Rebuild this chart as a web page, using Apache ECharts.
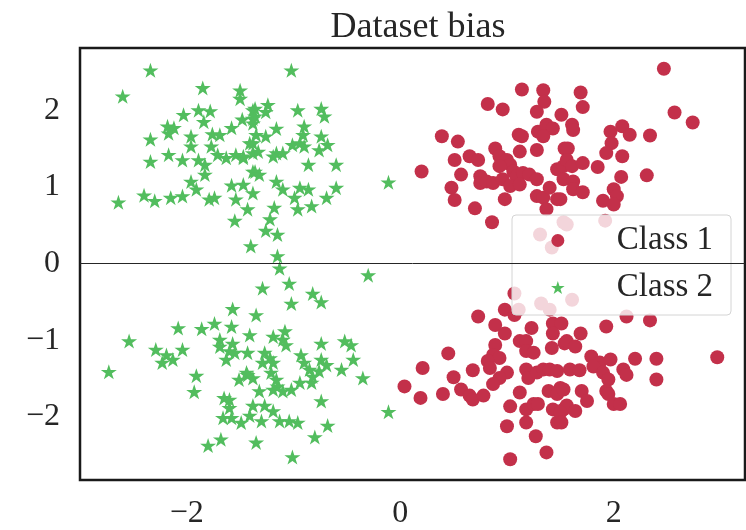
<!DOCTYPE html>
<html><head><meta charset="utf-8">
<script src="https://cdn.jsdelivr.net/npm/echarts@6/dist/echarts.min.js"></script>
<style>html,body{margin:0;padding:0;background:#fff}#c{width:746px;height:530px}</style>
</head><body><div id="c"></div>
<script>
const titleText = 'Dataset bias';
const seriesNames = ['Class 1', 'Class 2'];
const xTicks = [-2, 0, 2];
const yTicks = [-2, -1, 0, 1, 2];

const class1 = [
[1.14,2.27],[1.34,2.26],[1.35,2.11],[0.82,2.08],[0.96,2.01],[1.28,1.98],[1.51,1.94],[0.39,1.66],[0.54,1.59],[1.11,1.68],
[1.14,1.66],[1.29,1.72],[1.37,1.81],[1.43,1.76],[1.34,1.66],[1.28,1.48],[0.89,1.50],[0.65,1.40],[0.73,1.35],[0.51,1.35],
[1.12,1.46],[1.54,1.50],[0.93,1.40],[1.00,1.35],[1.03,1.29],[0.93,1.27],[0.20,1.20],[0.57,1.16],[0.75,1.14],[0.75,1.05],
[0.81,1.07],[0.87,1.05],[1.06,1.20],[1.09,1.14],[1.15,1.18],[1.21,1.16],[1.28,1.10],[0.96,1.10],[1.03,1.01],[1.12,1.03],
[1.47,1.23],[1.53,1.27],[1.53,1.10],[0.48,0.99],[0.51,0.83],[0.98,0.84],[1.28,0.88],[1.34,0.86],[1.47,0.84],[1.40,0.99],
[0.70,0.72],[1.37,0.71],[0.86,0.54],[1.31,0.38],[1.42,0.21],[1.53,0.54],[2.47,2.54],[1.69,2.23],[1.71,2.04],[2.57,1.97],
[2.74,1.84],[1.61,1.81],[1.62,1.74],[1.97,1.72],[2.08,1.79],[2.15,1.68],[2.34,1.67],[1.98,1.57],[1.93,1.44],[2.08,1.40],
[1.57,1.50],[1.56,1.35],[1.61,1.27],[1.71,1.31],[1.85,1.26],[2.07,1.13],[2.31,1.15],[1.62,1.07],[1.62,0.97],[1.71,0.93],
[1.50,0.84],[2.00,0.97],[2.03,0.88],[1.90,0.82],[2.00,0.77],[1.92,0.56],[1.56,0.51],
[1.07,-0.39],[1.32,-0.52],[1.40,-0.60],[1.11,-0.60],[0.73,-0.69],[0.98,-0.60],[1.07,-0.67],[0.89,-0.80],[0.98,-0.91],[1.43,-0.78],
[1.51,-0.78],[1.43,-0.91],[1.23,-0.84],[1.12,-1.01],[1.18,-1.01],[0.89,-1.06],[0.87,-1.19],[0.93,-1.23],[0.82,-1.27],[0.84,-1.36],
[1.18,-1.14],[1.25,-1.16],[1.42,-1.10],[1.54,-1.04],[0.45,-1.17],[0.21,-1.36],[0.68,-1.39],[0.50,-1.48],[1.00,-1.42],[0.93,-1.49],
[0.87,-1.57],[1.18,-1.38],[1.20,-1.49],[1.28,-1.42],[1.34,-1.38],[1.40,-1.38],[1.47,-1.40],[0.04,-1.60],[0.19,-1.75],[0.40,-1.70],
[0.57,-1.64],[0.65,-1.72],[0.68,-1.77],[0.78,-1.72],[1.12,-1.68],[1.39,-1.66],[1.50,-1.62],[1.47,-1.70],[1.03,-1.86],[1.18,-1.90],
[1.25,-1.83],[1.29,-1.83],[1.43,-1.90],[1.53,-1.90],[1.47,-2.07],[1.18,-2.07],[1.00,-2.12],[1.27,-2.25],[1.37,-2.46],[1.03,-2.55],
[1.61,-0.47],[2.12,-0.69],[2.34,-0.74],[1.93,-0.82],[1.69,-0.91],[1.56,-1.01],[1.64,-1.08],[1.79,-1.21],[1.87,-1.29],[1.97,-1.25],
[1.81,-1.34],[1.90,-1.42],[1.95,-1.51],[2.09,-1.38],[2.12,-1.45],[2.20,-1.24],[2.40,-1.24],[2.40,-1.51],[2.97,-1.22],[1.59,-1.38],
[1.68,-1.39],[1.53,-1.64],[1.70,-1.66],[1.75,-1.79],[1.93,-1.66],[1.95,-1.70],[2.00,-1.83],[2.06,-1.83],[1.56,-1.85],[1.64,-1.92],
[1.50,-1.94],[1.51,-2.07]
];

const class2 = [
[-2.34,2.52],[-2.60,2.18],[-1.85,2.29],[-1.50,2.26],[-1.50,2.15],[-2.03,1.94],[-1.89,2.00],[-1.78,1.99],[-1.84,1.85],[-2.18,1.79],
[-2.12,1.77],[-2.17,1.70],[-2.34,1.62],[-1.96,1.66],[-1.96,1.53],[-1.76,1.69],[-1.69,1.68],[-1.58,1.77],[-1.48,1.88],[-1.38,2.00],
[-1.38,1.89],[-1.77,1.53],[-2.17,1.42],[-2.04,1.35],[-2.34,1.33],[-1.89,1.35],[-1.83,1.29],[-1.83,1.16],[-1.71,1.42],[-1.63,1.38],
[-1.54,1.42],[-1.47,1.38],[-1.38,1.57],[-1.38,1.44],[-1.96,1.07],[-1.91,0.97],[-1.38,1.20],[-1.58,1.02],[-1.47,1.03],[-1.38,0.92],
[-1.54,0.84],[-2.40,0.89],[-2.30,0.82],[-2.15,0.86],[-2.04,0.88],[-2.64,0.80],[-1.79,0.84],[-1.74,0.86],[-1.43,0.71],[-1.55,0.56],
[-1.40,0.23],[-1.02,2.52],[-1.36,2.02],[-1.24,2.07],[-1.26,1.98],[-1.36,1.92],[-1.38,1.83],[-0.96,2.00],[-0.74,2.02],[-0.71,1.92],
[-1.16,1.76],[-0.90,1.79],[-0.91,1.68],[-1.35,1.68],[-1.26,1.66],[-1.41,1.57],[-0.74,1.66],[-0.68,1.55],[-0.76,1.48],[-1.01,1.55],
[-0.90,1.53],[-0.94,1.57],[-1.16,1.44],[-1.10,1.44],[-1.19,1.40],[-1.33,1.46],[-1.47,1.40],[-0.86,1.29],[-0.60,1.29],[-1.36,1.20],
[-1.32,1.16],[-1.16,1.07],[-1.10,0.97],[-0.11,1.06],[-0.94,0.99],[-0.86,0.97],[-0.99,0.86],[-0.60,0.99],[-0.69,0.86],[-1.18,0.73],
[-0.96,0.71],[-0.83,0.75],[-1.22,0.58],[-1.26,0.43],[-1.15,0.38],[-1.15,0.10],
[-1.13,-0.06],[-0.30,-0.15],[-1.29,-0.32],[-1.04,-0.26],[-0.82,-0.39],[-0.74,-0.50],[-1.02,-0.52],[-1.35,-0.67],[-1.57,-0.59],[-2.08,-0.84],
[-1.86,-0.85],[-1.74,-0.78],[-1.58,-0.82],[-1.41,-0.93],[-2.54,-1.01],[-2.29,-1.12],[-2.19,-1.19],[-2.13,-1.25],[-2.23,-1.29],[-2.04,-1.12],
[-1.69,-0.99],[-1.69,-1.08],[-1.57,-1.04],[-1.60,-1.14],[-1.63,-1.25],[-1.55,-1.16],[-1.43,-1.16],[-2.73,-1.41],[-1.91,-1.46],[-1.93,-1.67],
[-1.51,-1.51],[-1.43,-1.45],[-1.38,-1.49],[-1.65,-1.75],[-1.60,-1.77],[-1.60,-1.88],[-1.38,-1.85],[-1.41,-1.98],[-1.66,-2.01],[-1.58,-2.01],
[-1.49,-2.07],[-1.68,-2.29],[-1.80,-2.37],[-1.35,-2.33],[-1.19,-0.95],[-1.08,-0.88],[-1.10,-0.99],[-1.07,-1.06],[-0.74,-1.04],[-0.52,-1.01],
[-0.46,-1.06],[-1.27,-1.16],[-1.22,-1.23],[-1.29,-1.29],[-1.19,-1.29],[-0.93,-1.19],[-0.90,-1.29],[-0.85,-1.38],[-0.74,-1.25],[-0.69,-1.32],
[-0.76,-1.40],[-0.44,-1.25],[-0.55,-1.38],[-0.35,-1.49],[-1.44,-1.42],[-1.21,-1.42],[-1.16,-1.51],[-1.15,-1.60],[-1.19,-1.64],[-1.32,-1.66],
[-1.10,-1.66],[-1.02,-1.64],[-0.94,-1.55],[-0.83,-1.55],[-0.82,-1.47],[-0.74,-1.79],[-1.27,-1.85],[-1.19,-1.92],[-1.30,-2.05],[-1.13,-2.05],
[-1.04,-2.05],[-0.96,-2.07],[-0.68,-2.11],[-0.80,-2.26],[-1.01,-2.52],[-0.11,-1.93]
];

const starPath = 'path://M50,0L61.2,34.5L97.6,34.5L68.2,55.9L79.4,90.5L50,69.1L20.6,90.5L31.8,55.9L2.4,34.5L38.8,34.5Z';
const serif = '"Liberation Serif", "DejaVu Serif", serif';
const textColor = '#262626';
const fmt = v => v < 0 ? '\u2212' + Math.abs(v) : String(v);

const chart = echarts.init(document.getElementById('c'), null, {renderer: 'canvas'});
chart.setOption({
  animation: false,
  backgroundColor: '#fff',
  title: {
    text: titleText, left: 413, top: 5, textAlign: 'center',
    textStyle: {fontFamily: serif, fontSize: 36, fontWeight: 'normal', color: textColor}
  },
  grid: {left: 80, right: 1, top: 48, bottom: 47, show: true, borderColor: '#1a1a1a', borderWidth: 2.5, backgroundColor: 'transparent'},
  xAxis: {
    type: 'value', min: -3.0, max: 3.23,
    axisLine: {show: false}, axisTick: {show: false}, splitLine: {show: false},
    axisLabel: {customValues: xTicks, formatter: fmt, margin: 18, fontFamily: serif, fontSize: 32, color: textColor, showMinLabel: true, showMaxLabel: true}
  },
  yAxis: {
    type: 'value', min: -2.82, max: 2.81,
    axisLine: {show: false}, axisTick: {show: false}, splitLine: {show: false},
    axisLabel: {customValues: yTicks, formatter: fmt, margin: 20, fontFamily: serif, fontSize: 32, color: textColor, showMinLabel: true, showMaxLabel: true}
  },
  legend: {
    orient: 'vertical', left: 551, top: 224, padding: 0, itemGap: 14,
    itemWidth: 108, itemHeight: 13,
    textStyle: {fontFamily: serif, fontSize: 33, color: textColor},
    data: seriesNames
  },
  graphic: {elements: [{
    type: 'rect', z: 3, silent: true,
    shape: {x: 512, y: 215, width: 219, height: 100, r: 4},
    style: {fill: 'rgba(255,255,255,0.8)', stroke: '#d4d4d4', lineWidth: 1}
  }]},
  series: [
    {
      name: seriesNames[0], type: 'scatter', data: class1, symbol: 'circle', symbolSize: 14,
      itemStyle: {color: '#c3304a', opacity: 1},
      markLine: {silent: true, symbol: 'none', label: {show: false}, lineStyle: {color: textColor, width: 1, type: 'solid'}, data: [{yAxis: 0}]}
    },
    {
      name: seriesNames[1], type: 'scatter', data: class2, symbol: starPath, symbolSize: [16, 15],
      itemStyle: {color: '#52bd5e', opacity: 1}
    }
  ]
});
</script></body></html>
